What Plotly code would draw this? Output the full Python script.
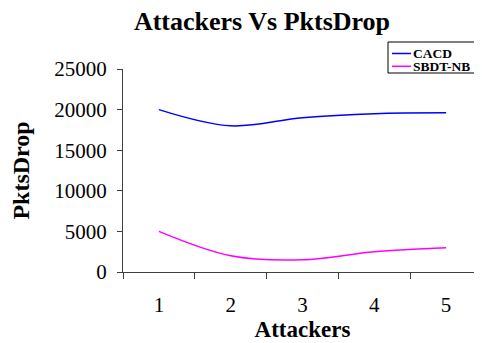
import plotly.graph_objects as go

attackers = ["1", "2", "3", "4", "5"]
cacd = [20000, 18000, 19000, 19500, 19600]
sbdt_nb = [5000, 2000, 1500, 2500, 3000]
y_ticks = [0, 5000, 10000, 15000, 20000, 25000]
y_tick_text = [str(v) for v in y_ticks]
series_names = ["CACD", "SBDT-NB"]
series_colors = ["#0000FF", "#FF00FF"]

font_family = "Liberation Serif"
axis_color = "#404040"

# page body has an 8px margin; figure is sized to the visible area
OFF = 8
W, H = 482 - OFF, 343 - OFF
L, R, T, B = 123 - OFF, 0, 69 - OFF, 343 - 272
plot_w = W - L - R
plot_h = H - T - B


def px_x(px):
    return (px - OFF - L) / plot_w


def px_y(py):
    return (H - B - (py - OFF)) / plot_h


fig = go.Figure()
for name, vals, col in zip(series_names, [cacd, sbdt_nb], series_colors):
    fig.add_trace(go.Scatter(x=attackers, y=vals, name=name, mode="lines",
                             showlegend=False,
                             line=dict(color=col, width=1.5, shape="spline", smoothing=1)))

# compact legend (box, line samples, labels)
shapes = [dict(type="rect", xref="paper", yref="paper",
               x0=px_x(388), x1=px_x(480), y0=px_y(73), y1=px_y(42),
               line=dict(color="black", width=1), fillcolor="white", layer="above")]
annotations = []
for i, (name, col) in enumerate(zip(series_names, series_colors)):
    yy = 53.5 + i * 12.8
    shapes.append(dict(type="line", xref="paper", yref="paper",
                       x0=px_x(392), x1=px_x(411), y0=px_y(yy), y1=px_y(yy),
                       line=dict(color=col, width=1.5), layer="above"))
    annotations.append(dict(text=f"<b>{name}</b>", xref="paper", yref="paper",
                            x=px_x(412), y=px_y(yy), xanchor="left", yanchor="middle",
                            showarrow=False, borderpad=0, height=12, valign="middle",
                            font=dict(size=13.5, family=font_family, color="black")))

fig.update_layout(
    width=W, height=H,
    margin=dict(l=L, r=R, t=T, b=B),
    paper_bgcolor="white", plot_bgcolor="white",
    font=dict(family=font_family, color="black", size=21),
    title=dict(text="<b>Attackers Vs PktsDrop</b>", x=(262 - OFF) / W, xanchor="center",
               y=1 - (21 - OFF) / H, yref="container", yanchor="middle",
               font=dict(size=26, family=font_family, color="black")),
    showlegend=False,
    shapes=shapes,
    annotations=annotations,
    xaxis=dict(type="category", range=[-0.5, 4.5], tickson="boundaries",
               ticks="outside", ticklen=6, automargin=False,
               tickcolor=axis_color, showline=True, linecolor=axis_color, linewidth=1,
               showgrid=False, zeroline=False, ticklabelstandoff=14,
               tickfont=dict(size=21, family=font_family, color="black"),
               title=dict(text="<b>Attackers</b>",
                          font=dict(size=23, family=font_family, color="black"),
                          standoff=0)),
    yaxis=dict(range=[0, 25000], tickvals=y_ticks, ticktext=y_tick_text,
               ticks="outside", ticklen=5, automargin=False,
               tickcolor=axis_color, showline=True, linecolor=axis_color, linewidth=1,
               showgrid=False, zeroline=False, ticklabelstandoff=6,
               tickfont=dict(size=21, family=font_family, color="black"),
               title=dict(text="<b>PktsDrop</b>",
                          font=dict(size=24, family=font_family, color="black"),
                          standoff=28)),
)

fig.write_html("out.html")
